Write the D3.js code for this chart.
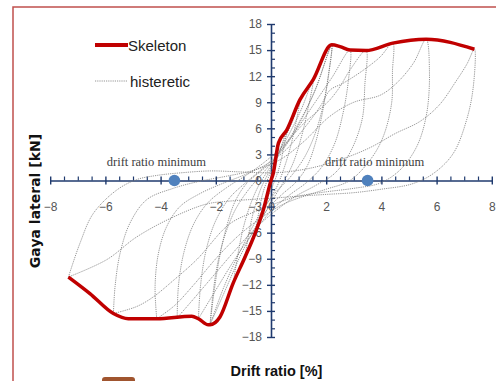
<!DOCTYPE html>
<html>
<head>
<meta charset="utf-8">
<script src="https://cdn.jsdelivr.net/npm/d3@7"></script>
<style>
  body { margin: 0; background: #fff; }
  svg { display: block; }
</style>
</head>
<body>
<svg id="chart" width="496" height="381"></svg>
<script>
// skeleton (envelope) curve, drift ratio [%] vs lateral force [kN]
const skeletonX = [-7.34, -6.56, -5.71, -5.17, -4.14, -2.87, -2.63, -2.27, -2.21, -1.85, -1.37, -0.94, -0.58, -0.28, 0.0, 0.08, 0.27, 0.57, 1.05, 1.53, 2.2, 2.5, 2.86, 3.44, 4.41, 5.62, 7.37];
const skeletonY = [-11.1, -13.0, -15.3, -15.9, -15.9, -15.6, -15.9, -16.6, -16.6, -15.7, -11.8, -8.8, -6.1, -3.4, 0, 0.8, 4.3, 5.8, 9.3, 11.6, 15.6, 15.4, 15.0, 14.95, 15.8, 16.25, 15.1];

// hysteretic loops, one array per cycle amplitude
const loop03 = [[-0.28,-3.4],[-0.15,-1.5],[0,0],[0.15,2.2],[0.27,4.3],[0.18,2.0],[0.05,0.2],[-0.1,-1.2],[-0.28,-3.4]];
const loop06 = [[-0.58,-6.1],[-0.45,-3.8],[-0.3,-1.5],[-0.1,0.3],[0.15,2.0],[0.4,4.2],[0.57,5.8],[0.45,3.6],[0.3,1.5],[0.1,-0.3],[-0.2,-2.6],[-0.58,-6.1]];
const loop10 = [[-0.94,-8.8],[-0.8,-6],[-0.6,-3.2],[-0.35,-0.8],[-0.1,0.8],[0.2,2.6],[0.5,4.8],[0.8,7.0],[1.05,9.3],[0.9,6.6],[0.7,3.8],[0.45,1.2],[0.2,-0.8],[-0.2,-3.0],[-0.55,-5.6],[-0.94,-8.8]];
const loop15 = [[-1.37,-11.8],[-1.2,-8.5],[-1.0,-5.4],[-0.75,-2.8],[-0.45,-0.6],[-0.1,1.2],[0.3,3.3],[0.7,5.6],[1.1,8.2],[1.53,11.6],[1.35,8.4],[1.1,5.0],[0.8,2.0],[0.45,-0.2],[0.1,-2.0],[-0.4,-4.8],[-0.9,-8.2],[-1.37,-11.8]];
const loop22a = [[-2.21,-16.6],[-2.05,-12.5],[-1.85,-8.6],[-1.6,-5.2],[-1.3,-2.4],[-0.9,-0.4],[-0.4,1.0],[0.1,2.3],[0.6,4.3],[1.1,7.0],[1.6,10.4],[2.2,15.6],[2.05,11.5],[1.85,7.6],[1.6,4.2],[1.3,1.6],[0.9,-0.2],[0.4,-1.6],[-0.1,-3.2],[-0.6,-5.6],[-1.1,-8.6],[-1.6,-12.2],[-2.21,-16.6]];
const loop22b = [[-2.21,-16.6],[-2.1,-13.0],[-1.95,-9.8],[-1.7,-6.6],[-1.3,-3.4],[-0.8,-1.0],[-0.2,1.2],[0.4,3.6],[1.0,6.6],[1.6,10.4],[2.2,15.6],[2.1,12.4],[1.9,8.8],[1.6,5.4],[1.2,2.6],[0.7,0.4],[0.1,-1.6],[-0.5,-4.4],[-1.1,-8.0],[-1.7,-12.2],[-2.21,-16.6]];
const loop28 = [[-2.63,-15.9],[-2.55,-12.0],[-2.35,-8.0],[-2.0,-4.6],[-1.5,-2.0],[-0.9,-0.2],[-0.3,1.4],[0.4,3.6],[1.0,6.2],[1.6,9.0],[2.2,11.8],[2.86,15.0],[2.8,11.4],[2.6,7.6],[2.3,4.2],[1.85,1.6],[1.3,-0.2],[0.7,-1.6],[0.1,-3.2],[-0.6,-5.8],[-1.3,-9.0],[-2.0,-12.6],[-2.63,-15.9]];
const loop35 = [[-3.4,-15.8],[-3.35,-12.0],[-3.15,-8.2],[-2.8,-5.0],[-2.3,-2.6],[-1.6,-0.8],[-0.9,0.6],[-0.2,2.2],[0.5,4.2],[1.2,6.6],[1.7,8.0],[2.14,9.3],[2.5,10.8],[2.86,12.7],[3.44,14.95],[3.4,11.0],[3.3,7.0],[2.86,3.2],[2.3,0.8],[1.6,-0.6],[0.9,-1.8],[0.2,-3.4],[-0.6,-5.6],[-1.4,-8.4],[-2.1,-11.0],[-2.8,-13.6],[-3.4,-15.8]];
const loop44 = [[-4.14,-15.9],[-4.2,-12.2],[-4.08,-8.4],[-3.78,-5.3],[-3.3,-3.0],[-2.57,-1.5],[-1.8,-0.4],[-1.0,0.6],[-0.2,1.8],[0.5,3.4],[1.2,6.0],[1.8,8.6],[2.14,10.4],[2.62,11.2],[3.35,12.7],[3.95,14.2],[4.41,15.8],[4.4,12.5],[4.37,8.9],[4.06,5.0],[3.6,2.4],[2.86,0.0],[2.0,-1.0],[1.2,-1.8],[0.4,-2.8],[-0.4,-4.4],[-1.2,-6.4],[-2.0,-9.0],[-2.8,-12.0],[-3.5,-14.4],[-4.14,-15.9]];
const loop56 = [[-5.71,-15.3],[-5.65,-12.2],[-5.47,-8.4],[-5.11,-4.9],[-4.5,-2.2],[-3.54,-0.9],[-2.6,-0.1],[-1.6,0.5],[-0.6,1.2],[0.33,2.4],[1.16,4.4],[2.14,7.4],[3.0,9.0],[3.95,9.8],[4.55,11.2],[5.16,13.5],[5.62,16.25],[5.74,12.7],[5.64,7.7],[5.28,3.9],[4.67,1.2],[3.95,-0.3],[3.0,-0.9],[2.0,-1.3],[1.0,-1.8],[0.2,-2.6],[-0.6,-3.6],[-1.5,-5.0],[-2.69,-9.1],[-3.54,-11.5],[-4.27,-13.4],[-4.87,-14.5],[-5.71,-15.3]];
const loop74 = [[-7.34,-11.1],[-6.92,-7.2],[-6.44,-3.8],[-5.59,-1.1],[-4.87,0.1],[-4.1,0.6],[-3.2,0.9],[-2.2,1.1],[-1.2,1.0],[-0.4,0.9],[0.2,0.9],[1.4,1.4],[2.6,2.5],[3.6,3.8],[4.5,5.4],[5.4,6.8],[6.1,8.7],[6.7,11.4],[7.1,13.4],[7.37,15.1],[7.33,10.8],[7.09,7.0],[6.6,3.1],[5.88,0.8],[5.1,-0.4],[4.0,-1.0],[3.0,-1.4],[2.0,-1.6],[1.0,-1.8],[0.2,-2.0],[-0.8,-2.2],[-1.6,-2.4],[-2.33,-2.7],[-3.54,-4.2],[-4.87,-6.5],[-5.95,-9.1],[-7.34,-11.1]];
const loops = [loop03, loop06, loop10, loop15, loop22a, loop22b, loop28, loop35, loop44, loop56, loop74];

// drift ratio minimum markers
const minDrift = [-3.5, 3.5];
const minLabel = 'drift ratio minimum';

const xTicks = [-8, -6, -4, -2, 0, 2, 4, 6, 8];
const yTicks = [-18, -15, -12, -9, -6, -3, 0, 3, 6, 9, 12, 15, 18];

const svg = d3.select('#chart');
const axisColor = '#1f3a6e';
const labelColor = '#555';

const x = d3.scaleLinear().domain([-8, 8]).range([50.2, 491.8]);
const y = d3.scaleLinear().domain([-18, 18]).range([337, 24]);

// outer frame
svg.append('path')
  .attr('d', 'M13,381 L13,7 L496,7')
  .attr('fill', 'none')
  .attr('stroke', '#c0504d')
  .attr('stroke-width', 1.5);

// brown block at the bottom
svg.append('rect')
  .attr('x', 102).attr('y', 377).attr('width', 33).attr('height', 10)
  .attr('rx', 3)
  .attr('fill', '#a0552f');

// minor ticks
const xMinor = d3.range(-16, 17).map(d => d / 2).filter(d => !xTicks.includes(d));
const yMinor = d3.range(-18, 19).filter(d => !yTicks.includes(d));

const minorX = svg.append('g')
  .attr('transform', `translate(0,${y(0)})`)
  .call(d3.axisTop(x).tickValues(xMinor).tickSize(4).tickFormat(''));
minorX.select('.domain').remove();
minorX.selectAll('line').attr('stroke', axisColor).attr('stroke-width', 1.2);

const minorY = svg.append('g')
  .attr('transform', `translate(${x(0)},0)`)
  .call(d3.axisRight(y).tickValues(yMinor).tickSize(4).tickFormat(''));
minorY.select('.domain').remove();
minorY.selectAll('line').attr('stroke', axisColor).attr('stroke-width', 1.2);

// major axes
const xAxis = svg.append('g')
  .attr('transform', `translate(0,${y(0)})`)
  .call(d3.axisBottom(x).tickValues(xTicks).tickSize(4).tickSizeOuter(0).tickPadding(18));
xAxis.select('.domain').attr('stroke', axisColor).attr('stroke-width', 1.6);
xAxis.selectAll('line').attr('y1', -4).attr('stroke', axisColor).attr('stroke-width', 1.4);
xAxis.selectAll('text')
  .attr('fill', labelColor)
  .style('font', '12px "Liberation Sans Narrow", "Liberation Sans", sans-serif');

const yAxis = svg.append('g')
  .attr('transform', `translate(${x(0)},0)`)
  .call(d3.axisLeft(y).tickValues(yTicks).tickSize(4).tickSizeOuter(0).tickPadding(5));
yAxis.select('.domain').attr('stroke', axisColor).attr('stroke-width', 1.6);
yAxis.selectAll('line').attr('x1', 4).attr('stroke', axisColor).attr('stroke-width', 1.4);
yAxis.selectAll('text')
  .attr('fill', labelColor)
  .style('font', '12px "Liberation Sans Narrow", "Liberation Sans", sans-serif');

// hysteretic loops
const loopLine = d3.line()
  .x(d => x(d[0]))
  .y(d => y(d[1]))
  .curve(d3.curveCatmullRom.alpha(0.5));

svg.append('g')
  .selectAll('path')
  .data(loops)
  .join('path')
  .attr('d', loopLine)
  .attr('fill', 'none')
  .attr('stroke', '#7a7a7a')
  .attr('stroke-width', 0.8)
  .attr('stroke-dasharray', '1.2,1');

// skeleton curve
const skeleton = skeletonX.map((d, i) => [d, skeletonY[i]]);
svg.append('path')
  .datum(skeleton)
  .attr('d', d3.line().x(d => x(d[0])).y(d => y(d[1])).curve(d3.curveMonotoneX))
  .attr('fill', 'none')
  .attr('stroke', '#c00000')
  .attr('stroke-width', 3.5)
  .attr('stroke-linejoin', 'round');

// minimum drift markers
svg.append('g')
  .selectAll('circle')
  .data(minDrift)
  .join('circle')
  .attr('cx', d => x(d))
  .attr('cy', y(0))
  .attr('r', 5.8)
  .attr('fill', '#4f81bd');

svg.append('g')
  .selectAll('text')
  .data(minDrift)
  .join('text')
  .attr('x', d => x(d) + (d < 0 ? -18 : 7))
  .attr('y', 166)
  .attr('text-anchor', 'middle')
  .attr('fill', '#404040')
  .style('font', '12.5px "Liberation Serif", "Times New Roman", serif')
  .text(minLabel);

// legend
const legend = svg.append('g').style('font', '15px "Liberation Sans Narrow", "Liberation Sans", sans-serif');
legend.append('line')
  .attr('x1', 95).attr('x2', 128).attr('y1', 45).attr('y2', 45)
  .attr('stroke', '#c00000').attr('stroke-width', 4);
legend.append('text')
  .attr('x', 128).attr('y', 50.5).attr('fill', '#222').text('Skeleton');
legend.append('line')
  .attr('x1', 95).attr('x2', 128).attr('y1', 81).attr('y2', 81)
  .attr('stroke', '#7a7a7a').attr('stroke-width', 0.8).attr('stroke-dasharray', '1.2,1');
legend.append('text')
  .attr('x', 130).attr('y', 86.5).attr('fill', '#222').text('histeretic');

// axis titles
svg.append('text')
  .attr('transform', 'translate(40,201) rotate(-90)')
  .attr('text-anchor', 'middle')
  .attr('fill', '#111')
  .style('font', 'bold 14px "DejaVu Sans", sans-serif')
  .text('Gaya lateral [kN]');

svg.append('text')
  .attr('x', 276.5).attr('y', 376)
  .attr('text-anchor', 'middle')
  .attr('fill', '#111')
  .style('font', 'bold 14.5px "Liberation Sans", sans-serif')
  .text('Drift ratio [%]');
</script>
</body>
</html>
